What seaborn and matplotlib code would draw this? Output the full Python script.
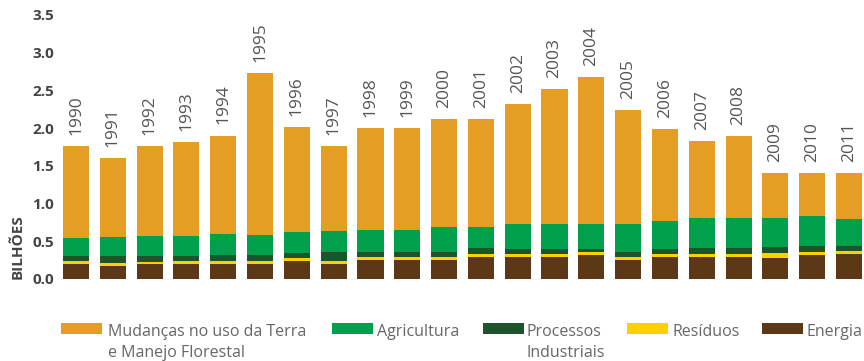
import numpy as np
import pandas as pd
import matplotlib
matplotlib.use("Agg")
import matplotlib.pyplot as plt
from matplotlib.patches import Rectangle
import seaborn as sns

years = [str(y) for y in range(1990, 2012)]
mudancas = [1.22, 1.05, 1.19, 1.24, 1.31, 2.15, 1.39, 1.13, 1.36, 1.36, 1.44,
            1.43, 1.60, 1.80, 1.96, 1.52, 1.23, 1.03, 1.09, 0.59, 0.57, 0.61]
agricultura = [0.24, 0.25, 0.27, 0.27, 0.27, 0.27, 0.28, 0.28, 0.28, 0.28, 0.32,
               0.28, 0.32, 0.32, 0.32, 0.36, 0.36, 0.39, 0.39, 0.39, 0.40, 0.35]
processos = [0.07, 0.09, 0.08, 0.07, 0.09, 0.07, 0.07, 0.11, 0.07, 0.07, 0.07,
             0.08, 0.07, 0.07, 0.05, 0.07, 0.07, 0.08, 0.08, 0.08, 0.07, 0.07]
residuos = [0.04, 0.04, 0.03, 0.04, 0.04, 0.04, 0.04, 0.04, 0.04, 0.04, 0.04,
            0.04, 0.04, 0.04, 0.04, 0.04, 0.04, 0.04, 0.04, 0.07, 0.04, 0.04]
energia = [0.19, 0.17, 0.19, 0.19, 0.19, 0.20, 0.23, 0.20, 0.25, 0.25, 0.25,
           0.29, 0.29, 0.29, 0.31, 0.25, 0.29, 0.29, 0.29, 0.27, 0.32, 0.33]

labels = ['Mudanças no uso da Terra\ne Manejo Florestal', 'Agricultura',
          'Processos\nIndustriais', 'Resíduos', 'Energia']
colors = ['#E49E23', '#00A04C', '#1F532B', '#FFD000', '#5C3816']
yticks = [0.0, 0.5, 1.0, 1.5, 2.0, 2.5, 3.0, 3.5]

sns.set_style('white')
plt.rcParams['font.family'] = ['Open Sans', 'DejaVu Sans']

W, H = 864, 361
fig = plt.figure(figsize=(W / 100, H / 100), dpi=100)
ax = fig.add_axes([58 / W, 82.3 / H, (W - 58) / W, 263.7 / H])

# stack from bottom: energia, residuos, processos, agricultura, mudancas
df = pd.DataFrame({'year': years, 'energia': energia, 'residuos': residuos,
                   'processos': processos, 'agricultura': agricultura,
                   'mudancas': mudancas})
order = ['energia', 'residuos', 'processos', 'agricultura', 'mudancas']
cum = df[order].cumsum(axis=1)
layer_colors = dict(zip(['mudancas', 'agricultura', 'processos', 'residuos', 'energia'], colors))

# draw tallest cumulative first so lower layers overlay it
for col in order[::-1]:
    sns.barplot(x=df['year'], y=cum[col], color=layer_colors[col], saturation=1,
                width=0.71, errorbar=None, linewidth=0, ax=ax)

totals = cum['mudancas'].values
for i, (yr, tot) in enumerate(zip(years, totals)):
    ax.annotate(yr, xy=(i, tot), xytext=(0, 8), textcoords='offset points',
                rotation=90, ha='center', va='bottom', fontsize=12.5,
                color='#555555', annotation_clip=False)

ax.set_xlim((58 - 76) / 36.81, (W - 76) / 36.81)
ax.set_ylim(0, 3.5)
ax.set_yticks(yticks)
ax.set_yticklabels([f'{t:.1f}' for t in yticks], fontsize=11,
                   fontweight='bold', color='#444444')
ax.set_xticks([])
ax.set_xlabel('')
ax.set_ylabel('BILHÕES', loc='bottom', fontsize=11, fontweight='bold',
              color='#444444', labelpad=5.5)
ax.tick_params(left=False, bottom=False, length=0, pad=3)
sns.despine(ax=ax, left=True, bottom=True)

# legend laid out by hand (patch aligned with the first text line)
patch_x = [61, 332, 483, 627, 762]
text_x = [108, 377, 527, 672, 807]
for lab, c, px, tx in zip(labels, colors, patch_x, text_x):
    fig.add_artist(Rectangle((px / W, 27 / H), 41 / W, 11 / H,
                             transform=fig.transFigure, color=c, lw=0))
    for k, line in enumerate(lab.split('\n')):
        fig.text(tx / W, (25 - 21 * k) / H, line, fontsize=11.5, color='#666666',
                 ha='left', va='baseline')

fig.savefig('out.png', dpi=100)
